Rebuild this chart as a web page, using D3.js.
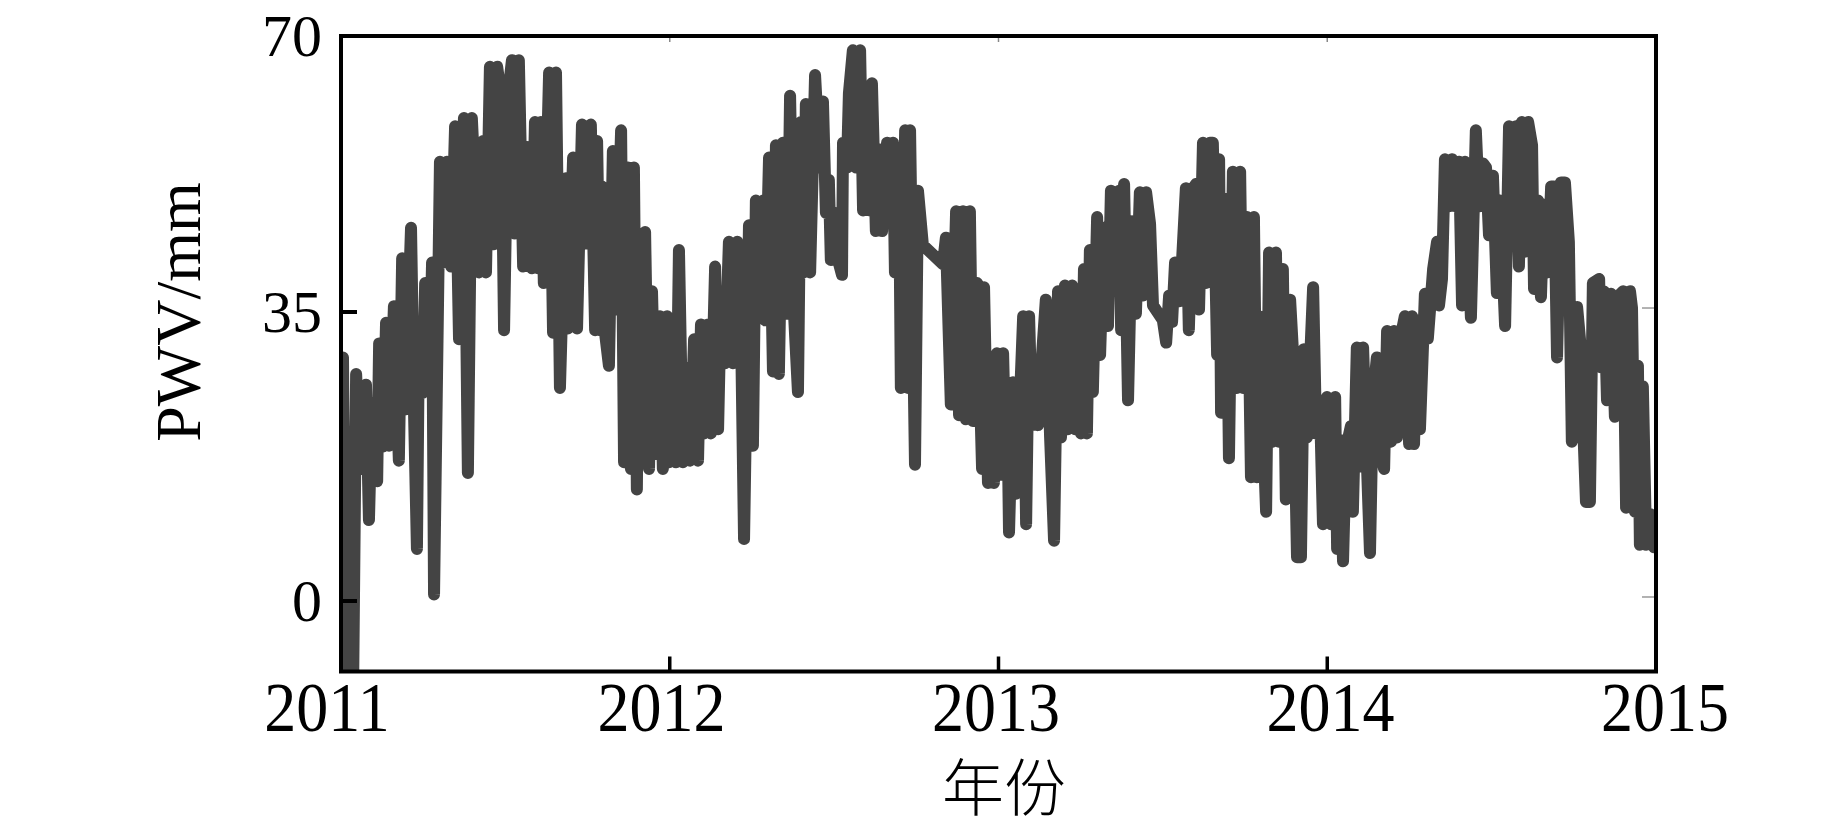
<!DOCTYPE html>
<html><head><meta charset="utf-8">
<script src="https://cdn.jsdelivr.net/npm/d3@7"></script>
<style>html,body{margin:0;background:#fff;} svg{display:block;}</style>
</head><body><svg id="chart" width="1843" height="830"></svg>
<script>
// ---- data ----
const yearTicks = [2011, 2012, 2013, 2014, 2015];
const yearLabels = ["2011", "2012", "2013", "2014", "2015"];
const pwvTicks = [0, 35, 70];
const pwvTickLabels = ["0", "35", "70"];
const xTitle = "年份";
const yTitle = "PWV/mm";

// [decimal year, PWV (mm)]
const pwv2011 = [
[2011.006,29.5],[2011.015,-10],[2011.037,-10],[2011.046,27.5],[2011.058,16],[2011.076,26.2],[2011.085,9.8],[2011.094,24],[2011.110,14.5],[2011.116,31.2],[2011.128,18.7],[2011.137,33.7],[2011.146,18.8],[2011.161,35.7],[2011.176,17],[2011.186,41.5],[2011.195,23.2],[2011.213,45.2],[2011.222,23.2],[2011.231,6.3],[2011.237,32.2],[2011.249,25.2],[2011.256,38.5],[2011.268,25.7],[2011.277,41],[2011.283,0.8],[2011.301,53.2],[2011.310,41],[2011.322,53.2],[2011.335,40.5],[2011.347,57.5],[2011.359,31.7],[2011.374,58.5],[2011.386,15.5],[2011.398,58.5],[2011.420,39.8],[2011.432,55.7],[2011.441,39.8],[2011.453,64.7],[2011.465,43.2],[2011.475,64.7],[2011.487,61.2],[2011.496,32.8],[2011.508,61.2],[2011.520,65.5],[2011.529,44.5],[2011.541,65.5],[2011.554,40.5],[2011.566,55],[2011.581,40.3],[2011.590,58],[2011.599,40.3],[2011.608,58],[2011.617,38.5],[2011.633,64],[2011.645,32.5],[2011.654,64],[2011.666,25.8],
[2011.684,51.2],[2011.690,33],[2011.706,53.7],[2011.718,33],[2011.733,57.7],[2011.748,43.3],[2011.760,57.7],[2011.773,32.8],[2011.779,55.7],[2011.788,32.8],[2011.794,50.2],[2011.803,32.5],[2011.815,28.5],[2011.827,54.5],[2011.836,35.3],[2011.852,57],[2011.861,16.8],[2011.873,52.5],[2011.882,16],[2011.891,52.5],[2011.900,13.5],[2011.906,39],[2011.916,17.8],[2011.925,44.7],[2011.937,16],[2011.946,37.5],[2011.958,17.8],[2011.970,34.5],[2011.979,16],[2011.992,34.5],[2011.998,16.8]
];
const pwv2012 = [
[2012.007,31],[2012.019,16.8],[2012.028,42.5],[2012.040,16.8],[2012.052,28.2],[2012.062,17],[2012.074,31.7],[2012.086,17],[2012.095,33.5],[2012.104,20.3],[2012.116,33.5],[2012.125,20.3],[2012.138,40.5],[2012.147,20.8],[2012.156,37.5],[2012.168,28.8],[2012.180,43.5],[2012.192,28.8],[2012.205,43.5],[2012.214,40.7],[2012.226,7.5],[2012.241,45.5],[2012.253,18.8],[2012.262,48.5],[2012.275,36],[2012.284,48.5],[2012.290,34],[2012.302,53.7],[2012.314,27.8],[2012.323,55.2],
[2012.332,27.5],[2012.344,55.5],[2012.357,34.8],[2012.366,61.2],[2012.378,34.8],[2012.390,25.3],[2012.399,58],[2012.408,39.8],[2012.414,60.2],[2012.427,39.8],[2012.442,63.7],[2012.457,52.5],[2012.466,60.5],[2012.475,47],[2012.484,51],[2012.490,41.3],[2012.503,47],[2012.512,41.3],[2012.524,39.5],[2012.527,55.5],[2012.539,52.5],[2012.545,61.5],[2012.557,66.7],[2012.567,52.5],[2012.579,66.7],[2012.588,47.3],[2012.597,62],[2012.609,47.3],[2012.615,62.7],[2012.627,44.8],[2012.636,54.7],[2012.646,44.8],[2012.661,55.5],[2012.670,49],[2012.679,55.5],[2012.685,39.8],[2012.697,54.5],[2012.703,25.8],[2012.716,57],[2012.725,25.8],[2012.731,57],[2012.746,16.5],[2012.755,49.7],[2012.770,43.1],[2012.831,40.8],[2012.840,44],[2012.855,23.8],[2012.871,47.2],[2012.880,22.5],[2012.892,47.2],[2012.901,22],[2012.913,47.2],[2012.922,21.8],[2012.935,38.5],[2012.950,16],[2012.956,38],[2012.968,14.3],[2012.977,29.5],[2012.986,14.3],[2012.995,30]
];
const pwv2013 = [
[2013.005,15.3],[2013.014,30],[2013.020,19.8],[2013.026,26.5],[2013.032,8.3],[2013.044,26.5],[2013.053,13],[2013.062,21],[2013.075,34.5],[2013.084,9.3],[2013.093,34.5],[2013.102,21.3],[2013.111,29.2],[2013.120,21.3],[2013.132,29.5],[2013.144,36.5],[2013.157,19.8],[2013.169,7.3],[2013.181,37.5],[2013.190,19.8],[2013.202,38.2],[2013.211,20.8],[2013.224,38.2],[2013.233,20.8],[2013.242,37.5],[2013.251,20.3],[2013.260,40.2],[2013.269,20.3],[2013.278,42.5],[2013.287,25.3],[2013.300,46.5],[2013.309,29.8],[2013.321,45.2],[2013.333,33.3],[2013.342,49.7],[2013.354,39.3],[2013.367,49.7],[2013.373,32.8],[2013.382,50.5],[2013.394,24.3],[2013.406,46],[2013.418,34.8],[2013.430,49.5],[2013.440,37],[2013.449,49.5],[2013.461,45.7],[2013.470,35.8],[2013.500,34],[2013.510,31.3],[2013.519,37],[2013.528,33.8],[2013.537,41],[2013.549,36.3],[2013.558,41],[2013.570,50],[2013.579,32.8],[2013.592,50],[2013.601,50.5],[2013.610,35.3],[2013.622,55.5],[2013.631,38.5],[2013.643,55.5],[2013.652,55.5],[2013.665,29.8],[2013.671,53.5],[2013.677,22.8],[2013.692,48.7],[2013.701,17.3],[2013.713,52],[2013.725,25.8],[2013.735,52],[2013.744,25.8],[2013.756,46.5],[2013.768,15],[2013.777,46.5],[2013.786,15],[2013.792,34.5],[2013.814,10.8],[2013.823,42.2],[2013.835,19.3],[2013.844,42.2],[2013.853,19.3],[2013.865,40.2],[2013.874,12.3],[2013.887,36.5],[2013.896,30],[2013.908,5.3],[2013.920,5.3],[2013.929,30.5],[2013.938,19.8],[2013.957,38],[2013.966,20.3],[2013.978,23.5],[2013.987,9.3],[2013.999,24.7]
];
const pwv2014 = [
[2014.011,9.3],[2014.024,24.7],[2014.030,6.3],[2014.039,19.5],[2014.048,4.8],[2014.057,18.5],[2014.072,21.2],[2014.078,10.8],[2014.090,30.7],[2014.100,16.3],[2014.109,30.7],[2014.121,16.3],[2014.130,5.8],[2014.139,24.7],[2014.151,29.5],[2014.160,18.3],[2014.173,16],[2014.182,32.7],[2014.194,19.3],[2014.203,32.7],[2014.212,19.8],[2014.221,31.5],[2014.236,34.5],[2014.249,19],[2014.258,34.5],[2014.264,19],[2014.273,34],[2014.282,20.8],[2014.297,37.2],[2014.306,31.8],[2014.322,40.2],[2014.334,43.5],[2014.340,35.8],[2014.349,39],[2014.358,53.5],[2014.370,47.8],[2014.379,53.5],[2014.389,47.8],[2014.401,53.2],[2014.410,35.8],[2014.419,53.2],[2014.437,34.3],[2014.452,57],[2014.462,47.8],[2014.474,53],[2014.483,52.5],[2014.492,44.3],[2014.504,51.5],[2014.516,37.3],[2014.525,48.5],[2014.541,33.3],[2014.553,57.5],[2014.562,45.8],[2014.574,57.5],[2014.583,40.5],[2014.592,58],[2014.601,42.3],[2014.611,58],[2014.623,55.2],[2014.629,37.8],[2014.641,48.5],[2014.650,36.8],[2014.659,48],[2014.671,39.8],[2014.681,50.2],[2014.690,50.2],[2014.699,29.5],[2014.711,50.7],[2014.723,50.7],[2014.735,43.5],[2014.744,19.3],[2014.760,35.6],[2014.769,31.6],[2014.787,12],[2014.799,12],[2014.808,38.5],[2014.827,39],[2014.833,28.3],[2014.842,37.5],[2014.851,24.3],[2014.863,37.2],[2014.875,22.3],[2014.887,37],[2014.900,37.5],[2014.909,11.3],[2014.921,37.5],[2014.927,35.5],[2014.936,10.8],[2014.945,28.5],[2014.951,6.8],[2014.960,26],[2014.970,6.8],[2014.982,10.5],[2014.994,6.5]
];
const series = [].concat(pwv2011, pwv2012, pwv2013, pwv2014);

// ---- layout ----
const svg = d3.select("#chart");
const plot = {left: 341, right: 1656, top: 36, bottom: 671.5};
const serif = "'Liberation Serif','Times New Roman',serif";

const x = d3.scaleLinear().domain([2011, 2015]).range([plot.left, plot.right]);
const y = d3.scaleLinear().domain([-8.54, 68.43]).range([plot.bottom, plot.top]);
const yTickPos = y.copy().clamp(true);
const xLabelPos = d3.scaleLinear().domain([2011, 2015]).range([327, 1665]);

svg.append("rect").attr("width", 1843).attr("height", 830).attr("fill", "#fff");

svg.append("defs").append("clipPath").attr("id", "clip")
  .append("rect")
  .attr("x", plot.left).attr("y", plot.top)
  .attr("width", plot.right - plot.left).attr("height", plot.bottom - plot.top);

const line = d3.line().x(d => x(d[0])).y(d => y(d[1]));
svg.append("path")
  .datum(series)
  .attr("clip-path", "url(#clip)")
  .attr("d", line)
  .attr("fill", "none")
  .attr("stroke", "#444444")
  .attr("stroke-width", 12)
  .attr("stroke-linejoin", "round")
  .attr("stroke-linecap", "round");

// inner ticks
const innerYears = yearTicks.slice(1, -1);
const innerPwv = pwvTicks.filter(v => yTickPos(v) > plot.top + 1);
svg.append("g").selectAll("line").data(innerYears).join("line")
  .attr("x1", d => x(d)).attr("x2", d => x(d))
  .attr("y1", plot.bottom).attr("y2", plot.bottom - 15)
  .attr("stroke", "#000").attr("stroke-width", 3.5);
svg.append("g").selectAll("line").data(innerYears).join("line")
  .attr("x1", d => x(d)).attr("x2", d => x(d))
  .attr("y1", plot.top).attr("y2", plot.top + 6)
  .attr("stroke", "#888").attr("stroke-width", 1.5);
svg.append("g").selectAll("line").data(innerPwv).join("line")
  .attr("x1", plot.left).attr("x2", plot.left + 16)
  .attr("y1", d => y(d)).attr("y2", d => y(d))
  .attr("stroke", "#000").attr("stroke-width", 4);
svg.append("g").selectAll("line").data(innerPwv).join("line")
  .attr("x1", plot.right - 14).attr("x2", plot.right)
  .attr("y1", d => y(d) - 4).attr("y2", d => y(d) - 4)
  .attr("stroke", "#999").attr("stroke-width", 1.5);

// frame
svg.append("rect")
  .attr("x", plot.left).attr("y", plot.top)
  .attr("width", plot.right - plot.left).attr("height", plot.bottom - plot.top)
  .attr("fill", "none").attr("stroke", "#000").attr("stroke-width", 4);

// tick labels
svg.append("g").selectAll("text").data(yearTicks).join("text")
  .attr("transform", d => `translate(${xLabelPos(d)},731) scale(1,1.09)`)
  .attr("text-anchor", "middle")
  .attr("font-family", serif).attr("font-size", 64).attr("fill", "#000")
  .text((d, i) => yearLabels[i]);

svg.append("g").selectAll("text").data(pwvTicks).join("text")
  .attr("x", 322).attr("y", d => yTickPos(d) + 20)
  .attr("text-anchor", "end")
  .attr("font-family", serif).attr("font-size", 60).attr("fill", "#000")
  .text((d, i) => pwvTickLabels[i]);

// axis titles
svg.append("text")
  .attr("x", 1004).attr("y", 811)
  .attr("text-anchor", "middle")
  .attr("font-family", "'Noto Sans CJK SC','Noto Sans CJK JP',sans-serif")
  .attr("font-size", 62).attr("font-weight", 300).attr("fill", "#000")
  .text(xTitle);

svg.append("text")
  .attr("transform", "translate(200,312) rotate(-90)")
  .attr("text-anchor", "middle")
  .attr("font-family", serif).attr("font-size", 64).attr("fill", "#000")
  .text(yTitle);
</script>
</body></html>
